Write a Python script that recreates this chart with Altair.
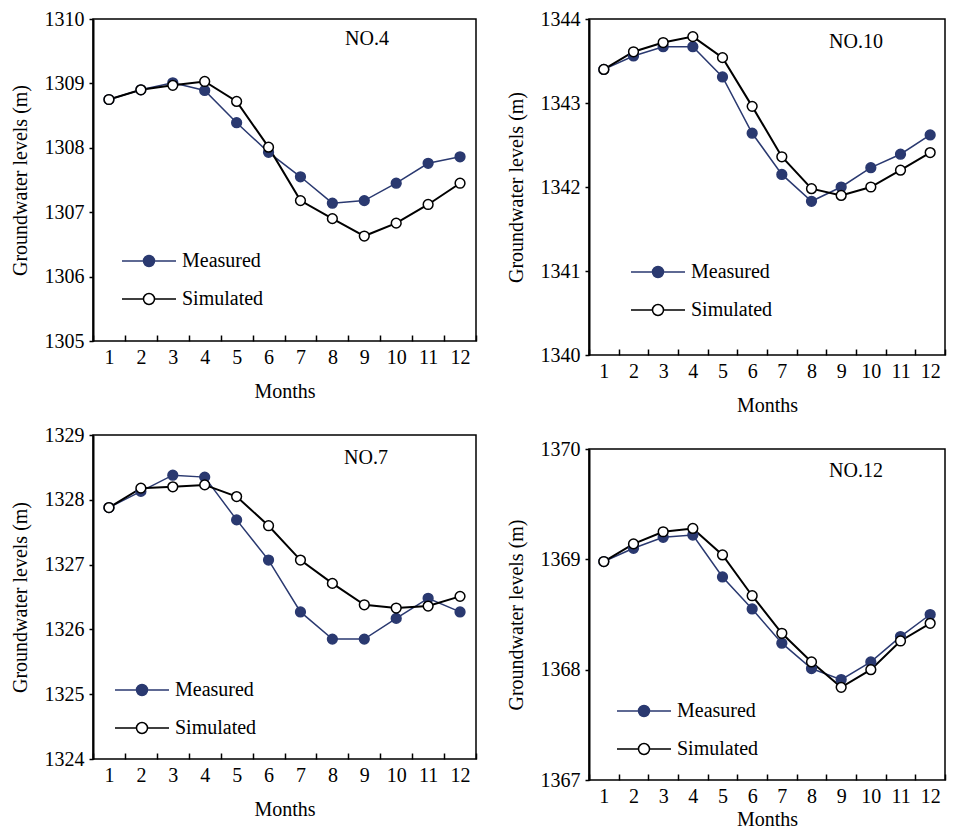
import altair as alt
import pandas as pd

months = list(range(1, 13))
series_names = ["Measured", "Simulated"]

# NO.4
no4_measured = [1308.75, 1308.90, 1309.01, 1308.89, 1308.39, 1307.93, 1307.55, 1307.14, 1307.18, 1307.45, 1307.76, 1307.86]
no4_simulated = [1308.75, 1308.90, 1308.97, 1309.03, 1308.72, 1308.01, 1307.18, 1306.90, 1306.63, 1306.83, 1307.12, 1307.45]
# NO.10
no10_measured = [1343.40, 1343.56, 1343.67, 1343.67, 1343.31, 1342.64, 1342.15, 1341.83, 1342.00, 1342.23, 1342.39, 1342.62]
no10_simulated = [1343.40, 1343.61, 1343.72, 1343.79, 1343.54, 1342.96, 1342.36, 1341.98, 1341.90, 1342.00, 1342.20, 1342.41]
# NO.7
no7_measured = [1327.88, 1328.13, 1328.38, 1328.35, 1327.69, 1327.07, 1326.27, 1325.85, 1325.85, 1326.17, 1326.48, 1326.27]
no7_simulated = [1327.88, 1328.18, 1328.20, 1328.23, 1328.05, 1327.60, 1327.07, 1326.71, 1326.38, 1326.33, 1326.36, 1326.51]
# NO.12
no12_measured = [1368.98, 1369.10, 1369.20, 1369.22, 1368.84, 1368.55, 1368.24, 1368.01, 1367.91, 1368.07, 1368.30, 1368.50]
no12_simulated = [1368.98, 1369.14, 1369.25, 1369.28, 1369.04, 1368.67, 1368.33, 1368.07, 1367.84, 1368.00, 1368.26, 1368.42]

FONT = "Liberation Serif"
NAVY = "#2A3970"
SYMBOL = "M-5.4,0H-1.1M1.1,0H5.4M1.1,0A1.1,1.1,0,1,1,-1.1,0A1.1,1.1,0,1,1,1.1,0Z"


def panel(name, measured, simulated, ymin, ymax, width, height, title_dx, title_dy,
          leg_x, leg_y, months_pad=14):
    df = pd.DataFrame({
        "month": months * 2,
        "value": measured + simulated,
        "series": ["Measured"] * 12 + ["Simulated"] * 12,
    })
    x = alt.X(
        "month:O",
        scale=alt.Scale(type="band", paddingInner=0, paddingOuter=0),
        axis=alt.Axis(
            title="Months", labelAngle=0, tickBand="extent", offset=-6, tickSize=6,
            domain=False, labelPadding=6, titlePadding=months_pad,
        ),
    )
    y = alt.Y(
        "value:Q",
        scale=alt.Scale(domain=[ymin, ymax], nice=False, zero=False),
        axis=alt.Axis(
            title="Groundwater levels (m)", values=list(range(ymin, ymax + 1)),
            format="d", tickSize=4, labelPadding=5, titlePadding=14,
            domainWidth=2, grid=False,
        ),
    )
    line_m = alt.Chart(df).transform_filter(
        alt.datum.series == "Measured"
    ).mark_line(color=NAVY, strokeWidth=1.5).encode(x=x, y=y)
    line_s = alt.Chart(df).transform_filter(
        alt.datum.series == "Simulated"
    ).mark_line(color="black", strokeWidth=2).encode(x=x, y=y)
    legend = alt.Legend(
        title=None, orient="none", legendX=leg_x, legendY=leg_y, padding=0,
        symbolType=SYMBOL, symbolSize=100, symbolStrokeWidth=1.5,
        labelFont=FONT, labelFontSize=20, labelColor="black", labelOffset=23,
        rowPadding=18,
    )
    points = alt.Chart(df).mark_point(filled=True, size=95, strokeWidth=1.5, opacity=1).encode(
        x=x, y=y,
        fill=alt.Fill("series:N", scale=alt.Scale(domain=series_names, range=[NAVY, "white"]), legend=legend),
        stroke=alt.Stroke("series:N", scale=alt.Scale(domain=series_names, range=[NAVY, "black"]), legend=legend),
    )
    return alt.layer(line_m, line_s, points).properties(
        width=width, height=height,
        title=alt.TitleParams(
            name, anchor="start", align="center", baseline="middle", dx=title_dx, dy=title_dy,
            offset=0, font=FONT, fontSize=20, fontWeight="normal", color="black", frame="group",
        ),
    )


p1 = panel("NO.4", no4_measured, no4_simulated, 1305, 1310, 383, 322, 274, 50, 46, 232)
p2 = panel("NO.10", no10_measured, no10_simulated, 1340, 1344, 356, 336, 267, 53, 59, 243)
p3 = panel("NO.7", no7_measured, no7_simulated, 1324, 1329, 383, 324, 273, 53, 39, 245)
p4 = panel("NO.12", no12_measured, no12_simulated, 1367, 1370, 356, 331, 267, 52, 45, 252, months_pad=3)

indep = dict(fill="independent", stroke="independent")

left_col = alt.vconcat(p1, p3, spacing=94, bounds="flush").resolve_scale(**indep).resolve_legend(**indep)
right_col = alt.vconcat(p2, p4, spacing=94, bounds="flush").resolve_scale(**indep).resolve_legend(**indep)

chart = alt.hconcat(left_col, right_col, spacing=27).resolve_scale(
    **indep
).resolve_legend(
    **indep
).properties(
    padding={"left": 1, "top": 0, "right": 0, "bottom": 0},
).configure(
    background="white",
).configure_view(
    stroke="black", strokeWidth=1.5,
).configure_axis(
    labelFont=FONT, labelFontSize=20, labelColor="black",
    titleFont=FONT, titleFontSize=20, titleFontWeight="normal", titleColor="black",
    domainColor="black", tickColor="black", tickWidth=1.5,
)

chart.save("out.html", embed_options={"renderer": "svg", "actions": False})
